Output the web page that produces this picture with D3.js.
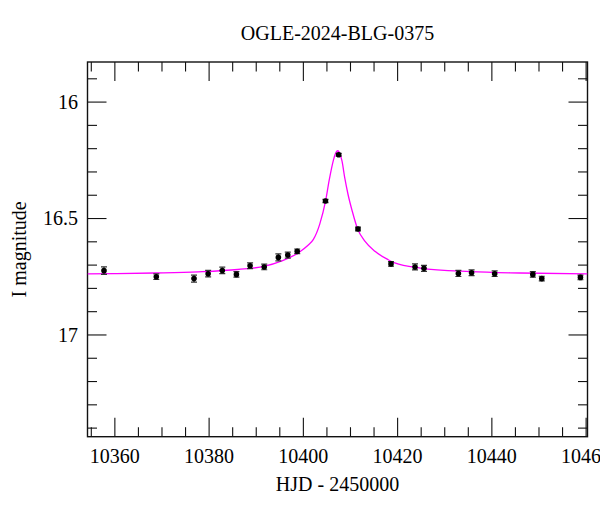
<!DOCTYPE html>
<html>
<head>
<meta charset="utf-8">
<script src="https://cdn.jsdelivr.net/npm/d3@7"></script>
<style>
  html, body { margin: 0; padding: 0; background: #fff; }
  svg { display: block; }
  text { font-family: "Liberation Serif", "DejaVu Serif", serif; fill: #000; }
</style>
</head>
<body>
<svg id="chart" width="600" height="512"></svg>
<script>
// ---- data ----
const title = "OGLE-2024-BLG-0375";
const xLabel = "HJD - 2450000";
const yLabel = "I magnitude";

const obsTime = [10357.8, 10368.9, 10376.9, 10379.9, 10382.9, 10385.9, 10388.8, 10391.8,
                 10394.8, 10396.8, 10398.8, 10404.8, 10407.6, 10411.7, 10418.7, 10423.8,
                 10425.7, 10433.0, 10435.8, 10440.7, 10448.8, 10450.7, 10458.9];
const obsMag  = [16.726, 16.752, 16.760, 16.739, 16.725, 16.742, 16.705, 16.710,
                 16.669, 16.659, 16.643, 16.427, 16.228, 16.547, 16.697, 16.710,
                 16.716, 16.738, 16.735, 16.739, 16.742, 16.760, 16.755];
const obsErr  = [0.016, 0.012, 0.015, 0.014, 0.014, 0.012, 0.012, 0.012,
                 0.015, 0.013, 0.010, 0.007, 0.006, 0.008, 0.010, 0.013,
                 0.013, 0.013, 0.012, 0.012, 0.012, 0.010, 0.010];

const modelTime = [10354.3, 10360.0, 10368.6, 10377.8, 10386.2, 10391.9, 10395.4, 10399.0,
                   10401.1, 10402.2, 10403.6, 10404.8, 10405.6, 10406.5, 10406.9, 10407.4,
                   10407.9, 10408.3, 10408.9, 10409.6, 10410.5, 10411.6, 10413.2, 10415.3,
                   10418.1, 10419.5, 10424.9, 10435.5, 10446.1, 10460.4];
const modelMag  = [16.740, 16.739, 16.736, 16.731, 16.721, 16.707, 16.685, 16.650,
                   16.617, 16.593, 16.525, 16.429, 16.336, 16.250, 16.224, 16.211,
                   16.226, 16.255, 16.329, 16.400, 16.472, 16.546, 16.600, 16.643,
                   16.679, 16.693, 16.715, 16.730, 16.736, 16.740];

const xMajorTicks = [10360, 10380, 10400, 10420, 10440, 10460];
const yMajorTicks = [16, 16.5, 17];

// ---- layout ----
const svg = d3.select("#chart");
const L = 87.5, R = 587.5, T = 62, B = 436.7;

const x = d3.scaleLinear().domain([10354.3, 10460.4]).range([L, R]);
const y = d3.scaleLinear().domain([15.83, 17.439]).range([T, B]);

const xMinor = d3.range(10355, 10461, 5).filter(v => v % 20 !== 0);
const yMinor = d3.range(159, 175, 1).map(v => v / 10).filter(v => Math.abs(v * 2 - Math.round(v * 2)) > 1e-6);

const g = svg.append("g");

function styleAxis(sel) {
  sel.select(".domain").remove();
  sel.selectAll(".tick line").attr("stroke", "#111").attr("stroke-width", 1.1);
}
const majorLen = 19, minorLen = 9.5;

// bottom
g.append("g").attr("transform", `translate(0,${B})`)
  .call(d3.axisBottom(x).tickValues(xMajorTicks).tickSizeInner(-majorLen).tickSizeOuter(0)
    .tickPadding(14).tickFormat(d3.format("d")))
  .call(styleAxis)
  .call(s => s.selectAll(".tick text").attr("font-size", 20).attr("font-family", "Liberation Serif").attr("fill", "#000")
      .attr("y", 0).attr("dy", 26.5));
g.append("g").attr("transform", `translate(0,${B})`)
  .call(d3.axisBottom(x).tickValues(xMinor).tickSizeInner(-minorLen).tickSizeOuter(0).tickFormat(""))
  .call(styleAxis);
// top
g.append("g").attr("transform", `translate(0,${T})`)
  .call(d3.axisTop(x).tickValues(xMajorTicks).tickSizeInner(-majorLen).tickSizeOuter(0).tickFormat(""))
  .call(styleAxis);
g.append("g").attr("transform", `translate(0,${T})`)
  .call(d3.axisTop(x).tickValues(xMinor).tickSizeInner(-minorLen).tickSizeOuter(0).tickFormat(""))
  .call(styleAxis);
// left
g.append("g").attr("transform", `translate(${L},0)`)
  .call(d3.axisLeft(y).tickValues(yMajorTicks).tickSizeInner(-majorLen).tickSizeOuter(0)
    .tickFormat(d => String(d)))
  .call(styleAxis)
  .call(s => s.selectAll(".tick text").attr("font-size", 20).attr("font-family", "Liberation Serif").attr("fill", "#000")
      .attr("x", -9.5).attr("dy", "0.34em"));
g.append("g").attr("transform", `translate(${L},0)`)
  .call(d3.axisLeft(y).tickValues(yMinor).tickSizeInner(-minorLen).tickSizeOuter(0).tickFormat(""))
  .call(styleAxis);
// right
g.append("g").attr("transform", `translate(${R},0)`)
  .call(d3.axisRight(y).tickValues(yMajorTicks).tickSizeInner(-majorLen).tickSizeOuter(0).tickFormat(""))
  .call(styleAxis);
g.append("g").attr("transform", `translate(${R},0)`)
  .call(d3.axisRight(y).tickValues(yMinor).tickSizeInner(-minorLen).tickSizeOuter(0).tickFormat(""))
  .call(styleAxis);

// frame
g.append("rect").attr("x", L).attr("y", T).attr("width", R - L).attr("height", B - T)
  .attr("fill", "none").attr("stroke", "#111").attr("stroke-width", 1.4);

// clip for plot contents
svg.append("defs").append("clipPath").attr("id", "clip")
  .append("rect").attr("x", L).attr("y", T).attr("width", R - L).attr("height", B - T);
const plot = svg.append("g").attr("clip-path", "url(#clip)");

// model curve
const modelData = modelTime.map((t, i) => [t, modelMag[i]]);
plot.append("path").datum(modelData)
  .attr("fill", "none").attr("stroke", "#ff00ff").attr("stroke-width", 1.3)
  .attr("d", d3.line().x(d => x(d[0])).y(d => y(d[1])).curve(d3.curveMonotoneX));

// observations
const obs = obsTime.map((t, i) => ({ t, m: obsMag[i], e: obsErr[i] }));
const pts = plot.append("g").selectAll("g").data(obs).join("g");
pts.append("line")
  .attr("x1", d => x(d.t)).attr("x2", d => x(d.t))
  .attr("y1", d => y(d.m - d.e)).attr("y2", d => y(d.m + d.e))
  .attr("stroke", "#333").attr("stroke-width", 1.2);
pts.append("line")
  .attr("x1", d => x(d.t) - 3).attr("x2", d => x(d.t) + 3)
  .attr("y1", d => y(d.m - d.e)).attr("y2", d => y(d.m - d.e))
  .attr("stroke", "#333").attr("stroke-width", 1.2);
pts.append("line")
  .attr("x1", d => x(d.t) - 3).attr("x2", d => x(d.t) + 3)
  .attr("y1", d => y(d.m + d.e)).attr("y2", d => y(d.m + d.e))
  .attr("stroke", "#333").attr("stroke-width", 1.2);
pts.append("circle")
  .attr("cx", d => x(d.t)).attr("cy", d => y(d.m)).attr("r", 2.8)
  .attr("fill", "#000");

// titles
svg.append("text").attr("x", (L + R) / 2).attr("y", 40).attr("text-anchor", "middle")
  .attr("font-size", 20).text(title);
svg.append("text").attr("x", (L + R) / 2).attr("y", 491).attr("text-anchor", "middle")
  .attr("font-size", 20).text(xLabel);
svg.append("text").attr("transform", `translate(26,${(T + B) / 2}) rotate(-90)`)
  .attr("text-anchor", "middle").attr("font-size", 20).text(yLabel);
</script>
</body>
</html>
